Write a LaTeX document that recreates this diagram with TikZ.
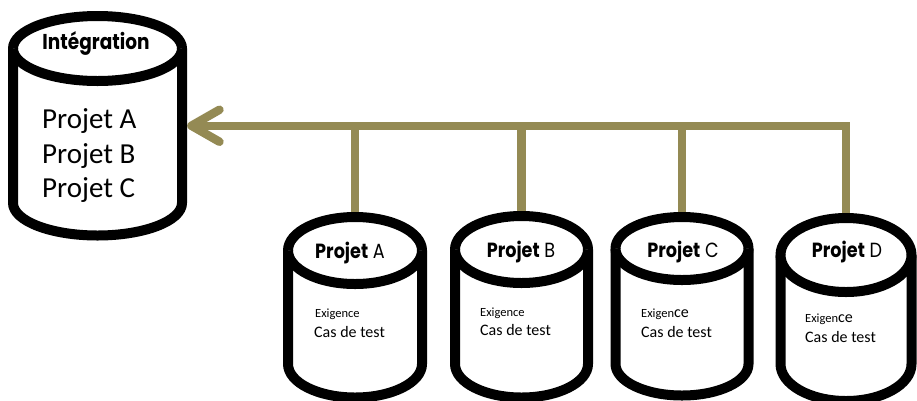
\documentclass[tikz,border=0pt]{standalone}
\usepackage{fontspec}
\setmainfont{Carlito}
\newfontfamily\hdfont{Poppins}
\newfontfamily\hdcond{Poppins}[FakeStretch=0.86]
\usetikzlibrary{arrows.meta}
\definecolor{lineolive}{HTML}{948A54}
% name, cx, rx, top centre y, ry, bottom centre y
\newcommand\cylnode[6]{%
  \node[inner sep=0pt, minimum width={2*#3+10}, minimum height={#6-#4+2*#5+10}] (#1) at (#2,{(#4+#6)/2}) {};}
\newcommand\cyldraw[6]{%
  \filldraw[cyl] ({#2-#3},#4) -- ({#2-#3},#6) arc[start angle=180,end angle=0,x radius=#3,y radius=#5]
     -- ({#2+#3},#4) arc[start angle=0,end angle=-180,x radius=#3,y radius=#5] -- cycle;
  \draw[cyl] ({#2+#3},#4) arc[start angle=0,end angle=180,x radius=#3,y radius=#5];}
\begin{document}
\begin{tikzpicture}[x=1pt,y=-1pt,
  cyl/.style={line width=10pt, draw=black, fill=white, line join=round},
  conn/.style={draw=lineolive, line width=8.5pt},
  headbig/.style={font=\hdcond\bfseries\fontsize{21.5}{25}\selectfont, inner sep=0pt, anchor=base},
  head/.style={font=\hdcond\fontsize{20.5}{24}\selectfont, inner sep=0pt, anchor=base},
  bigtxt/.style={font=\fontsize{29}{34}\selectfont, inner sep=0pt, anchor=base west},
  smalltxt/.style={font=\fontsize{12.5}{15}\selectfont, inner sep=0pt, anchor=base west},
  midtxt/.style={font=\fontsize{16}{19}\selectfont, inner sep=0pt, anchor=base west}]
\fill[white] (0,0) rectangle (917,400);
\useasboundingbox (0,0) rectangle (917,400);
\begin{scope}
\clip (0,0) rectangle (917,400);
% nodes
\cylnode{I}{97.5}{84.5}{48.5}{32.5}{203}
\cylnode{A}{355}{67}{250.5}{33.5}{364}
\cylnode{B}{521.5}{66.5}{249.5}{33.5}{364}
\cylnode{C}{682}{66.5}{248.5}{31.5}{364}
\cylnode{D}{846}{65.5}{255}{37}{364}
% connectors
\draw[conn] (A.north) -- (A.north |- I.east);
\draw[conn] (B.north) -- (B.north |- I.east);
\draw[conn] (C.north) -- (C.north |- I.east);
\draw[conn, -{Straight Barb[length=28pt,width=32pt,round]}] (D.north) |- (I.east);
% cylinders
\cyldraw{I}{97.5}{84.5}{48.5}{32.5}{203}
\cyldraw{A}{355}{67}{250.5}{33.5}{364}
\cyldraw{B}{521.5}{66.5}{249.5}{33.5}{364}
\cyldraw{C}{682}{66.5}{248.5}{31.5}{364}
\cyldraw{D}{846}{65.5}{255}{37}{364}
\end{scope}
% texts
\node[headbig] (tI) at (96,49) {Intégration};
\node[bigtxt] (pIa) at (42,128) {Projet A};
\node[bigtxt] (pIb) at (42,163) {Projet B};
\node[bigtxt] (pIc) at (42,197) {Projet C};
\node[head] (hA) at (350,258) {\bfseries Projet\mdseries{} A};
\node[head] (hB) at (521,257) {\bfseries Projet\mdseries{} B};
\node[head] (hC) at (683,257) {\bfseries Projet\mdseries{} C};
\node[head] (hD) at (847,257) {\bfseries Projet\mdseries{} D};
\node[smalltxt] (eA) at (315,317) {Exigence};
\node[midtxt] (cA) at (314,337) {Cas de test};
\node[smalltxt] (eB) at (480,316) {Exigence};
\node[midtxt] (cB) at (480,335) {Cas de test};
\node[smalltxt] (eC) at (641,317) {Exigen{\fontsize{16}{19}\selectfont ce}};
\node[midtxt] (cC) at (641,337) {Cas de test};
\node[smalltxt] (eD) at (805,322) {Exigen{\fontsize{16}{19}\selectfont ce}};
\node[midtxt] (cD) at (805,342) {Cas de test};
\end{tikzpicture}
\end{document}
